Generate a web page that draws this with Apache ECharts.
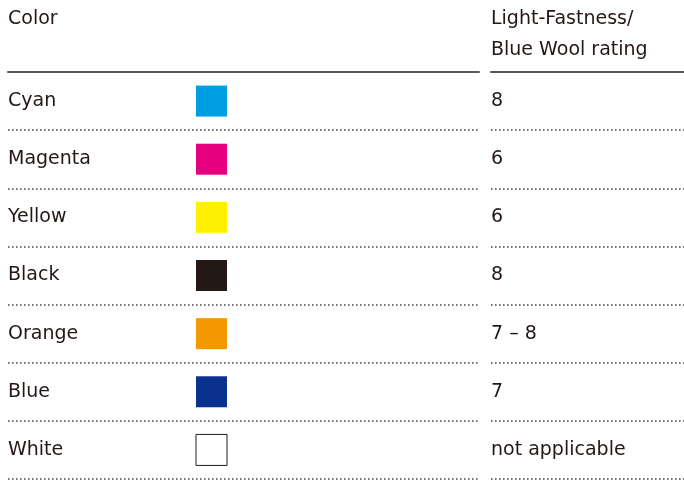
<!DOCTYPE html>
<html>
<head>
<meta charset="utf-8">
<script src="https://cdn.jsdelivr.net/npm/echarts@6/dist/echarts.min.js"></script>
<style>html,body{margin:0;padding:0;background:#fff;}#c{width:684px;height:480px;}</style>
</head>
<body>
<div id="c"></div>
<script>
var colorNames = ['Cyan', 'Magenta', 'Yellow', 'Black', 'Orange', 'Blue', 'White'];
var swatchColors = ['#009FE3', '#E4007F', '#FFF100', '#231815', '#F39800', '#0B318F', '#FFFFFF'];
var ratings = ['8', '6', '6', '8', '7 – 8', '7', 'not applicable'];
var headerLeft = 'Color';
var headerRight = 'Light-Fastness/\nBlue Wool rating';

var FONT = 'DejaVu Sans';
var TEXT = '#231815';
var SIZE = 19;
var swatchColumn = 203.5;

var chart = echarts.init(document.getElementById('c'), null, {renderer: 'canvas'});

function yAx(gridIndex, formatter) {
  return {
    type: 'category', gridIndex: gridIndex, inverse: true, data: colorNames,
    axisLine: {show: false}, axisTick: {show: false},
    axisLabel: {inside: true, margin: 0, color: TEXT, fontFamily: FONT, fontSize: SIZE, padding: [2, 0, 0, 0], formatter: formatter},
    splitLine: {show: true, lineStyle: {color: '#4a4646', width: 1.6, type: [1.6, 2.4]}}
  };
}
function xAx(gridIndex, max) {
  return {
    type: 'value', gridIndex: gridIndex, position: 'top', min: 0, max: max,
    axisLine: {show: true, onZero: false, lineStyle: {color: '#595757', width: 2}},
    axisTick: {show: false}, axisLabel: {show: false}, splitLine: {show: false}
  };
}

chart.setOption({
  animation: false,
  title: [
    {text: headerLeft, left: 8, top: 4, padding: 0, textStyle: {fontFamily: FONT, fontSize: SIZE, fontWeight: 'normal', color: TEXT, lineHeight: 31}},
    {text: headerRight, left: 491, top: 4, padding: 0, textStyle: {fontFamily: FONT, fontSize: SIZE, fontWeight: 'normal', color: TEXT, lineHeight: 31}}
  ],
  grid: [
    {left: 8, width: 471, top: 72, bottom: 1},
    {left: 491, right: 0, top: 72, bottom: 1}
  ],
  xAxis: [xAx(0, 471), xAx(1, 193)],
  yAxis: [
    yAx(0, function (v) { return v; }),
    yAx(1, function (v, i) { return ratings[i]; })
  ],
  series: [{
    type: 'scatter', xAxisIndex: 0, yAxisIndex: 0,
    symbol: 'rect', symbolSize: 31,
    data: colorNames.map(function (n, i) {
      return {
        value: [swatchColumn, n],
        itemStyle: {color: swatchColors[i], borderColor: n === 'White' ? '#231815' : swatchColors[i], borderWidth: n === 'White' ? 1 : 0, opacity: 1}
      };
    })
  }]
});
</script>
</body>
</html>
